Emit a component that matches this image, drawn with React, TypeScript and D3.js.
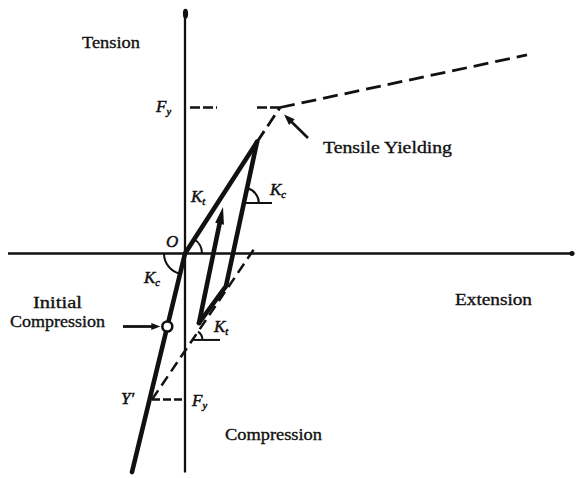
import React from 'react';
import * as d3 from 'd3';

const W = 576;
const H = 478;

type P = [number, number];

// Diagram geometry in (extension, force / Fy) units
const axisXExtent: P = [-1.77, 3.87];
const axisYExtent: P = [-1.5, 1.67];
const yieldPoint: P = [0.95, 1];
const hardeningEnd: P = [3.42, 1.36];
const compressionYield: P = [-0.33, -1];
const loadingKt: P[] = [[0, 0], [0.72, 0.764]];
const unloadingKc: P[] = [[0.72, 0.764], [0.41, -0.223], [0.14, -0.476]];
const reloadArrow: P[] = [[0.14, -0.476], [0.38, 0.318]];
const initialCompression: P[] = [[0, 0], [-0.53, -1.497]];
const compressionKtLine: P[] = [[-0.33, -1], [0.71, 0.05]];
const fyTensionSegments: P[][] = [[[0.05, 1], [0.32, 1]], [[0.72, 1], [0.95, 1]]];
const initialCompressionPoint: P = [-0.177, -0.5];
const kcMarkLevel = 0.346;
const ktMarkLevel = -0.592;

const x = d3.scaleLinear().domain([0, 1]).range([185, 285]);
const y = d3.scaleLinear().domain([0, 1]).range([253.5, 107.5]);
const line = d3.line<P>().x(d => x(d[0])).y(d => y(d[1]));

const px = (p: P): P => [x(p[0]), y(p[1])];

function atLevel(a: P, b: P, v: number): P {
  const t = (v - a[1]) / (b[1] - a[1]);
  return [a[0] + t * (b[0] - a[0]), v];
}

function arcPath(c: P, a1: number, a2: number, r: number) {
  const p1 = [c[0] + r * Math.cos(a1), c[1] + r * Math.sin(a1)];
  const p2 = [c[0] + r * Math.cos(a2), c[1] + r * Math.sin(a2)];
  const sweep = a2 > a1 ? 1 : 0;
  return `M${p1[0]},${p1[1]} A${r},${r} 0 0 ${sweep} ${p2[0]},${p2[1]}`;
}

function dirAngle(a: P, b: P) {
  const pa = px(a), pb = px(b);
  return Math.atan2(pb[1] - pa[1], pb[0] - pa[0]);
}

function arrowHead(tip: number[], from: number[], len: number, w: number) {
  const dx = tip[0] - from[0], dy = tip[1] - from[1];
  const L = Math.hypot(dx, dy);
  const ux = dx / L, uy = dy / L;
  const bx = tip[0] - ux * len, by = tip[1] - uy * len;
  const nx = -uy * w / 2, ny = ux * w / 2;
  return {
    points: `${tip[0]},${tip[1]} ${bx + nx},${by + ny} ${bx - nx},${by - ny}`,
    base: [bx + ux * 2, by + uy * 2],
  };
}

const ink = '#111';

function Sub({ xx, yy, main, sub, size = 17 }: { xx: number; yy: number; main: string; sub: string; size?: number }) {
  return (
    <text x={xx} y={yy} fontFamily="Liberation Serif" fontStyle="italic" fontSize={size} fill={ink} stroke={ink} strokeWidth={0.5}>
      {main}
      <tspan fontSize={size * 0.62} dy={3}>{sub}</tspan>
    </text>
  );
}

export default function App() {
  const O = px([0, 0]);

  // angle marks
  const aKt = dirAngle([0, 0], loadingKt[1]);
  const aKcO = dirAngle([0, 0], initialCompression[1]);
  const kcCenter = atLevel(unloadingKc[0], unloadingKc[1], kcMarkLevel);
  const aKcUp = dirAngle(unloadingKc[1], unloadingKc[0]);
  const ktCenter = atLevel(compressionKtLine[0], compressionKtLine[1], ktMarkLevel);
  const aKtLow = dirAngle(compressionKtLine[0], compressionKtLine[1]);

  // arrows
  const loopTip = px(reloadArrow[1]);
  const loopBottom = px(reloadArrow[0]);
  const loopHead = arrowHead(loopTip, loopBottom, 17, 9);

  const icTip = [px(initialCompressionPoint)[0] - 7, px(initialCompressionPoint)[1]];
  const icFrom = [123, icTip[1]];
  const icHead = arrowHead(icTip, icFrom, 9, 7);

  const tyTip = [px(yieldPoint)[0] + 4, px(yieldPoint)[1] + 7];
  const tyFrom = [308, 138];
  const tyHead = arrowHead(tyTip, tyFrom, 11, 8);

  return (
    <svg width={W} height={H} style={{ position: 'absolute', left: 0, top: 0, background: '#fff' }}>
      <rect width={W} height={H} fill="#fff" />
      {/* axes */}
      <line x1={x(axisXExtent[0])} x2={x(axisXExtent[1])} y1={O[1]} y2={O[1]} stroke={ink} strokeWidth={2.3} />
      <line x1={O[0]} x2={O[0]} y1={y(axisYExtent[1])} y2={y(axisYExtent[0])} stroke={ink} strokeWidth={2.3} />
      <circle cx={x(axisXExtent[1])} cy={O[1]} r={2.6} fill={ink} />
      <ellipse cx={O[0] + 0.5} cy={y(axisYExtent[1]) + 4} rx={2.6} ry={5} fill={ink} />

      {/* dashed reference lines */}
      {fyTensionSegments.map((s, i) => (
        <path key={i} d={line(s) || ''} stroke={ink} strokeWidth={2.6} strokeDasharray="10,3" fill="none" />
      ))}
      <path d={line([yieldPoint, hardeningEnd]) || ''} stroke={ink} strokeWidth={2.8} strokeDasharray="15,7" fill="none" />
      <path d={line([loadingKt[1], yieldPoint]) || ''} stroke={ink} strokeWidth={2.8} strokeDasharray="13,6" fill="none" />
      <path d={line(compressionKtLine) || ''} stroke={ink} strokeWidth={2.5} strokeDasharray="11,6" fill="none" />
      <path d={line([compressionYield, [0, -1]]) || ''} stroke={ink} strokeWidth={2.5} strokeDasharray="8,3" fill="none" />

      {/* main curves */}
      <path d={line(loadingKt) || ''} stroke={ink} strokeWidth={4.6} fill="none" strokeLinecap="round" />
      <path d={line(unloadingKc) || ''} stroke={ink} strokeWidth={4.6} fill="none" strokeLinejoin="round" strokeLinecap="round" />
      <path d={line(initialCompression) || ''} stroke={ink} strokeWidth={4.6} fill="none" strokeLinecap="round" />
      <line x1={loopBottom[0]} y1={loopBottom[1]} x2={loopHead.base[0]} y2={loopHead.base[1]} stroke={ink} strokeWidth={4.6} strokeLinecap="round" />
      <polygon points={loopHead.points} fill={ink} />
      <circle cx={px(initialCompressionPoint)[0]} cy={px(initialCompressionPoint)[1]} r={5} fill="#fff" stroke={ink} strokeWidth={2.6} />

      {/* angle marks */}
      <path d={arcPath(O, 0, aKt, 17)} stroke={ink} strokeWidth={2} fill="none" />
      <path d={arcPath(O, Math.PI, aKcO, 21)} stroke={ink} strokeWidth={2} fill="none" />
      <line x1={px(kcCenter)[0]} x2={x(0.87)} y1={px(kcCenter)[1]} y2={px(kcCenter)[1]} stroke={ink} strokeWidth={2} />
      <path d={arcPath(px(kcCenter), aKcUp, 0, 15)} stroke={ink} strokeWidth={2} fill="none" />
      <line x1={px(ktCenter)[0]} x2={x(0.35)} y1={px(ktCenter)[1]} y2={px(ktCenter)[1]} stroke={ink} strokeWidth={2} />
      <path d={arcPath(px(ktCenter), aKtLow, 0, 10)} stroke={ink} strokeWidth={2} fill="none" />

      {/* annotation arrows */}
      <line x1={icFrom[0]} y1={icFrom[1]} x2={icHead.base[0]} y2={icHead.base[1]} stroke={ink} strokeWidth={2.8} />
      <polygon points={icHead.points} fill={ink} />
      <line x1={tyFrom[0]} y1={tyFrom[1]} x2={tyHead.base[0]} y2={tyHead.base[1]} stroke={ink} strokeWidth={2.6} />
      <polygon points={tyHead.points} fill={ink} />

      {/* text */}
      <g fontFamily="Liberation Serif" fontSize={17} fill={ink} stroke={ink} strokeWidth={0.35}>
        <text x={82} y={48} textLength={58} lengthAdjust="spacingAndGlyphs">Tension</text>
        <text x={323} y={153} textLength={129} lengthAdjust="spacingAndGlyphs">Tensile Yielding</text>
        <text x={455} y={305} textLength={77} lengthAdjust="spacingAndGlyphs">Extension</text>
        <text x={33} y={308} textLength={49} lengthAdjust="spacingAndGlyphs">Initial</text>
        <text x={10} y={327} textLength={95} lengthAdjust="spacingAndGlyphs">Compression</text>
        <text x={225} y={440} textLength={97} lengthAdjust="spacingAndGlyphs">Compression</text>
      </g>
      <Sub xx={156} yy={112} main="F" sub="y" />
      <Sub xx={191} yy={202} main="K" sub="t" />
      <Sub xx={270} yy={195} main="K" sub="c" />
      <Sub xx={144} yy={283} main="K" sub="c" />
      <Sub xx={214} yy={332} main="K" sub="t" />
      <Sub xx={192} yy={406} main="F" sub="y" />
      <text x={166} y={247} fontFamily="Liberation Serif" fontStyle="italic" fontSize={17} fill={ink} stroke={ink} strokeWidth={0.5}>O</text>
      <text x={121} y={404} fontFamily="Liberation Serif" fontStyle="italic" fontSize={17} fill={ink} stroke={ink} strokeWidth={0.5}>Y′</text>
    </svg>
  );
}
